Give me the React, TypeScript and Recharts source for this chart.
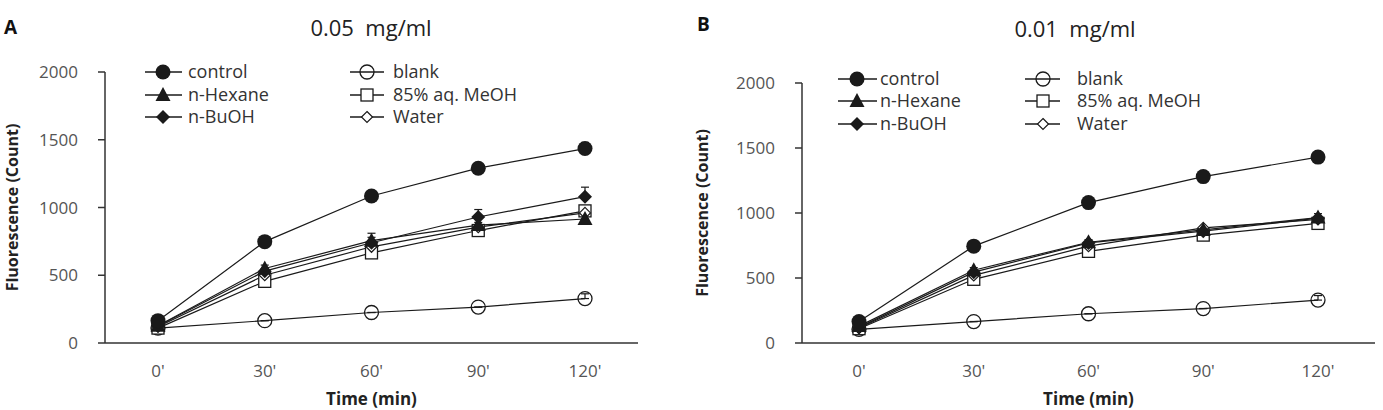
import React from 'react';
import { LineChart, Line, XAxis, YAxis, Legend, ErrorBar } from 'recharts';

// ---- data ----
const timeLabels = ["0'", "30'", "60'", "90'", "120'"];
const seriesKeys = ['control', 'blank', 'hexane', 'meoh', 'buoh', 'water'];
const seriesNames = ['control', 'blank', 'n-Hexane', '85% aq. MeOH', 'n-BuOH', 'Water'];
const yTicks = [0, 500, 1000, 1500, 2000];

// Panel A : 0.05 mg/ml
const controlA = [165, 748, 1085, 1290, 1435];
const blankA = [110, 165, 225, 265, 328];
const hexaneA = [128, 550, 755, 870, 915];
const meohA = [110, 455, 665, 830, 975];
const buohA = [125, 530, 740, 930, 1080];
const waterA = [120, 500, 710, 855, 960];
const controlErrA = [10, 15, 20, 25, 45];
const blankErrA = [0, 0, 0, 0, 35];
const hexaneErrA = [0, 25, 55, 20, 25];
const meohErrA = [0, 0, 0, 0, 0];
const buohErrA = [0, 0, 40, 55, 70];
const waterErrA = [0, 0, 0, 0, 0];

// Panel B : 0.01 mg/ml
const controlB = [165, 745, 1080, 1280, 1430];
const blankB = [105, 165, 225, 265, 330];
const hexaneB = [130, 560, 775, 870, 965];
const meohB = [110, 490, 705, 830, 920];
const buohB = [120, 545, 770, 860, 960];
const waterB = [115, 520, 745, 885, 950];
const controlErrB = [10, 15, 20, 20, 40];
const blankErrB = [0, 0, 0, 0, 35];
const hexaneErrB = [0, 20, 20, 20, 30];
const meohErrB = [0, 0, 0, 0, 0];
const buohErrB = [0, 0, 0, 0, 0];
const waterErrB = [0, 0, 0, 0, 0];

const buildRows = (vals: number[][], errs: number[][]) =>
  timeLabels.map((t, i) => {
    const row: any = { t };
    seriesKeys.forEach((k, j) => {
      row[k] = vals[j][i];
      row[k + 'Err'] = [0, errs[j][i]];
    });
    return row;
  });

const dataA = buildRows(
  [controlA, blankA, hexaneA, meohA, buohA, waterA],
  [controlErrA, blankErrA, hexaneErrA, meohErrA, buohErrA, waterErrA]
);
const dataB = buildRows(
  [controlB, blankB, hexaneB, meohB, buohB, waterB],
  [controlErrB, blankErrB, hexaneErrB, meohErrB, buohErrB, waterErrB]
);

const FONT = "'Open Sans', 'Noto Sans', sans-serif";
const INK = '#1a1a1a';

function Marker({ shape, cx, cy }: { shape: string; cx: number; cy: number }) {
  if (cx == null || cy == null) return null;
  switch (shape) {
    case 'control':
      return <circle cx={cx} cy={cy} r={7.5} fill={INK} />;
    case 'blank':
      return <circle cx={cx} cy={cy} r={7} fill="none" stroke={INK} strokeWidth={1.3} />;
    case 'hexane':
      return (
        <polygon
          points={`${cx},${cy - 8} ${cx - 7.5},${cy + 6} ${cx + 7.5},${cy + 6}`}
          fill={INK}
        />
      );
    case 'meoh':
      return <rect x={cx - 6} y={cy - 6} width={12} height={12} fill="#fff" stroke={INK} strokeWidth={1.3} />;
    case 'buoh':
      return (
        <polygon points={`${cx},${cy - 7} ${cx + 7},${cy} ${cx},${cy + 7} ${cx - 7},${cy}`} fill={INK} />
      );
    case 'water':
      return (
        <polygon
          points={`${cx},${cy - 5.5} ${cx + 5.5},${cy} ${cx},${cy + 5.5} ${cx - 5.5},${cy}`}
          fill="#fff"
          stroke={INK}
          strokeWidth={1.2}
        />
      );
    default:
      return null;
  }
}

function LegendBox({ cols, rows, w, h }: { cols: number[][]; rows: number[]; w: number; h: number }) {
  return (
    <svg width={w} height={h} style={{ display: 'block', overflow: 'visible' }}>
      {seriesKeys.map((k, i) => {
        const c = cols[i % 2];
        const y = rows[Math.floor(i / 2)];
        return (
          <g key={k}>
            <line x1={c[0]} x2={c[1]} y1={y} y2={y} stroke={INK} strokeWidth={1.3} />
            <Marker shape={k} cx={c[2]} cy={y} />
            <text x={c[3]} y={y} dy="0.35em" fontSize={18} fontFamily={FONT} fill="#333">
              {seriesNames[i]}
            </text>
          </g>
        );
      })}
    </svg>
  );
}

type PanelProps = {
  data: any[];
  left: number;
  width: number;
  top: number;
  rightMargin: number;
  axisWidth: number;
  pad: number;
  legendLeft: number;
  legendTop: number;
  legendCols: number[][];
  legendRows: number[];
};

function Panel(p: PanelProps) {
  return (
    <div style={{ position: 'absolute', left: p.left, top: 0, width: p.width, height: 410 }}>
      <LineChart
        width={p.width}
        height={410}
        data={p.data}
        margin={{ top: p.top, right: p.rightMargin, bottom: 0, left: 0 }}
      >
        <XAxis
          dataKey="t"
          height={67}
          padding={{ left: p.pad, right: p.pad }}
          tickLine={false}
          tickSize={0}
          tickMargin={22}
          axisLine={{ stroke: '#333', strokeWidth: 1.5 }}
          tick={{ fontSize: 17, fill: '#555', fontFamily: FONT }}
          label={{
            value: 'Time (min)',
            position: 'insideBottom',
            offset: 5,
            style: { fontSize: 17, fontWeight: 'bold', fill: '#222', fontFamily: FONT },
          }}
        />
        <YAxis
          width={p.axisWidth}
          domain={[0, 2000]}
          ticks={yTicks}
          tickSize={7}
          tickMargin={20}
          axisLine={{ stroke: '#333', strokeWidth: 1.5 }}
          tickLine={{ stroke: '#333', strokeWidth: 1.5 }}
          tick={{ fontSize: 17, fill: '#555', fontFamily: FONT }}
          label={{
            value: 'Fluorescence (Count)',
            angle: -90,
            position: 'insideLeft',
            offset: 12,
            style: { textAnchor: 'middle', fontSize: 16, fontWeight: 'bold', fill: '#222', fontFamily: FONT },
          }}
        />
        <Legend
          layout="vertical"
          align="center"
          verticalAlign="middle"
          wrapperStyle={{ position: 'absolute', left: p.legendLeft, top: p.legendTop, width: 340, height: 80 }}
          content={() => <LegendBox cols={p.legendCols} rows={p.legendRows} w={340} h={80} />}
        />
        {['blank', 'meoh', 'water', 'hexane', 'buoh', 'control'].map((k) => (
          <Line
            key={k}
            dataKey={k}
            name={seriesNames[seriesKeys.indexOf(k)]}
            stroke={INK}
            strokeWidth={1.2}
            isAnimationActive={false}
            dot={(d: any) => <Marker key={k + d.index} shape={k} cx={d.cx} cy={d.cy} />}
            activeDot={false}
          >
            <ErrorBar dataKey={k + 'Err'} direction="y" width={4} stroke={INK} strokeWidth={1.2} isAnimationActive={false} />
          </Line>
        ))}
      </LineChart>
    </div>
  );
}

export default function App() {
  return (
    <div
      style={{
        position: 'absolute',
        left: 0,
        top: 0,
        width: 1383,
        height: 410,
        background: '#fff',
        overflow: 'hidden',
        fontFamily: FONT,
      }}
    >
      <Panel
        data={dataA}
        left={0}
        width={690}
        top={72}
        rightMargin={52}
        axisWidth={105}
        pad={53}
        legendLeft={140}
        legendTop={60}
        legendCols={[
          [5, 42, 23, 48],
          [210, 244, 227, 253],
        ]}
        legendRows={[12, 35, 57]}
      />
      <Panel
        data={dataB}
        left={690}
        width={693}
        top={83}
        rightMargin={8}
        axisWidth={112}
        pad={57}
        legendLeft={143}
        legendTop={67}
        legendCols={[
          [5, 44, 24, 47],
          [192, 227, 210, 244],
        ]}
        legendRows={[12, 34, 57]}
      />
      <div style={{ position: 'absolute', left: 4, top: 14, fontSize: 19, fontWeight: 'bold', color: '#111' }}>A</div>
      <div style={{ position: 'absolute', left: 697, top: 11, fontSize: 19, fontWeight: 'bold', color: '#111' }}>B</div>
      <div
        style={{
          position: 'absolute',
          left: 271,
          width: 200,
          top: 12,
          textAlign: 'center',
          fontSize: 22,
          color: '#222',
          whiteSpace: 'pre',
        }}
      >
        {'0.05  mg/ml'}
      </div>
      <div
        style={{
          position: 'absolute',
          left: 975,
          width: 200,
          top: 13,
          textAlign: 'center',
          fontSize: 22,
          color: '#222',
          whiteSpace: 'pre',
        }}
      >
        {'0.01  mg/ml'}
      </div>
    </div>
  );
}
